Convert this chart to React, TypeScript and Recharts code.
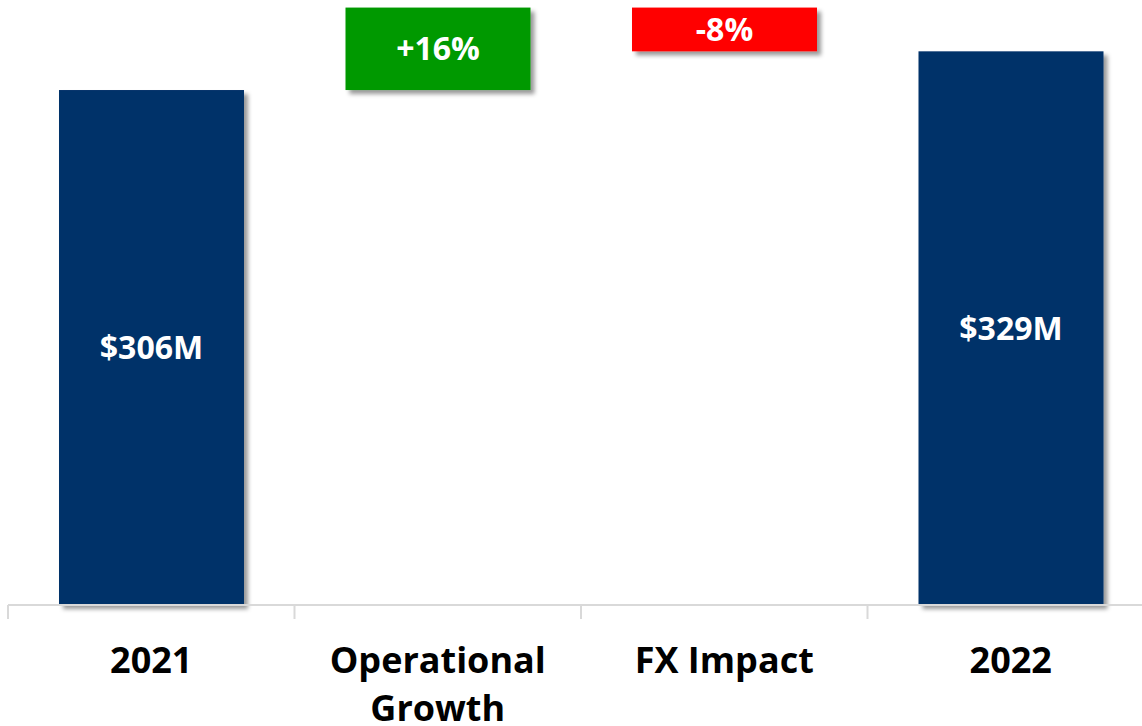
import { BarChart, Bar, XAxis, YAxis, Cell, LabelList } from 'recharts';

const categories = ['2021', 'Operational Growth', 'FX Impact', '2022'];
const lows = [0, 306, 329, 0];
const highs = [306, 355, 355, 329];
const barLabels = ['$306M', '+16%', '-8%', '$329M'];
const tickLines = [['2021'], ['Operational', 'Growth'], ['FX Impact'], ['2022']];
const colors = ['#003169', '#009900', '#ff0000', '#003169'];

const data = categories.map((name, i) => ({
  name,
  range: [lows[i], highs[i]],
  label: barLabels[i],
}));

const W = 1160;
const H = 726;
const margin = { top: 0, right: 6, bottom: 0, left: 8 };
const band = (W - margin.left - margin.right) / categories.length;

const ShadowBar = (props: any) => {
  const { x, y, width, height, fill, index } = props;
  const id = `shadow-${index}`;
  return (
    <g>
      <defs>
        <filter id={id} x="-20%" y="-30%" width="150%" height="170%">
          <feDropShadow dx="4" dy="4" stdDeviation="2" floodColor="#000" floodOpacity="0.4" />
        </filter>
      </defs>
      <rect x={x} y={y} width={width} height={height} fill={fill} filter={`url(#${id})`} />
    </g>
  );
};

const Tick = (props: any) => {
  const { x, y, index } = props;
  const lines = tickLines[index] || [];
  return (
    <g>
      <line x1={x - band / 2} x2={x - band / 2} y1={y} y2={y + 14} stroke="#d9d9d9" strokeWidth={2} />
      {lines.map((t, i) => (
        <text
          key={i}
          x={x}
          y={y + 68 + i * 48}
          textAnchor="middle"
          fontFamily="'Open Sans', sans-serif"
          fontWeight={700}
          fontSize={36}
          fill="#000"
        >
          {t}
        </text>
      ))}
    </g>
  );
};

export default function App() {
  return (
    <div style={{ position: 'absolute', left: 0, top: 0, width: 1142, height: H, overflow: 'hidden', background: '#fff' }}>
      <BarChart width={W} height={H} data={data} margin={margin} barCategoryGap="17.8%">
        <XAxis
          dataKey="name"
          height={121}
          interval={0}
          tickSize={0}
          tickMargin={0}
          tickLine={false}
          axisLine={{ stroke: '#d9d9d9', strokeWidth: 2 }}
          tick={<Tick />}
        />
        <YAxis hide domain={[0, 359.5]} />
        <Bar dataKey="range" isAnimationActive={false} shape={<ShadowBar />}>
          {data.map((d, i) => (
            <Cell key={d.name} fill={colors[i]} />
          ))}
          <LabelList
            dataKey="label"
            position="center"
            fill="#fff"
            fontSize={32}
            fontWeight={700}
            fontFamily="'Open Sans', sans-serif"
          />
        </Bar>
      </BarChart>
    </div>
  );
}
